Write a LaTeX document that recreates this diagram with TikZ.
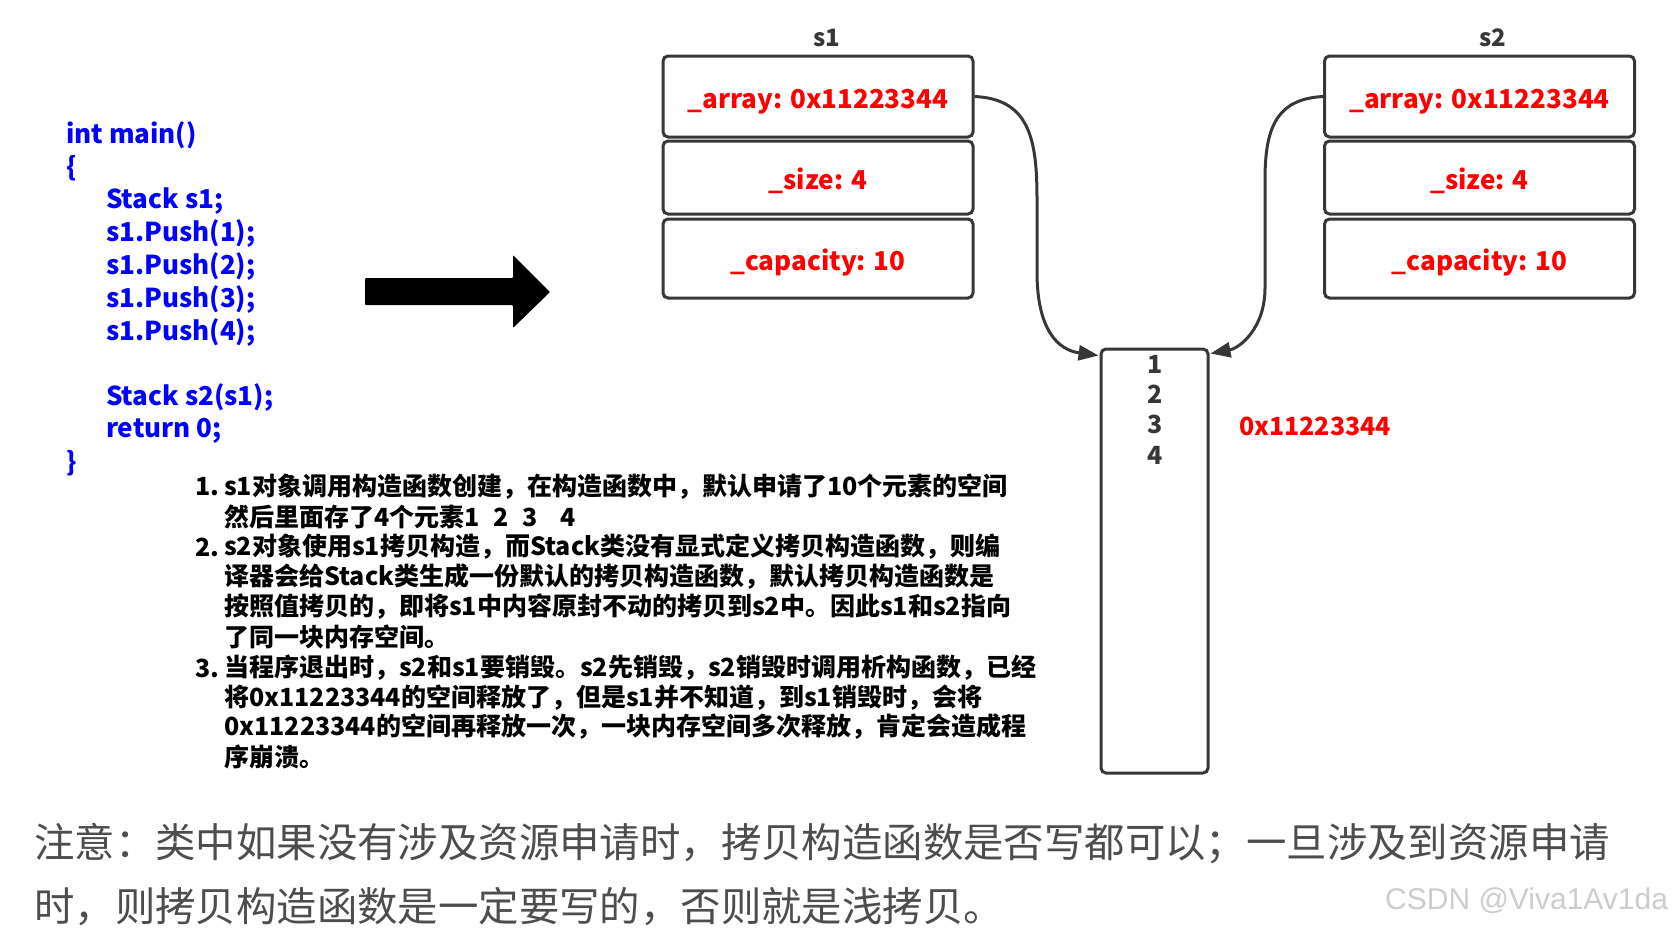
\documentclass[tikz,border=0pt]{standalone}
\usepackage{fontspec}
\setmainfont{Noto Sans CJK SC}
\newfontfamily\wmfont{Liberation Sans}
\usetikzlibrary{arrows.meta,calc}
\definecolor{codeblue}{RGB}{0,0,255}
\definecolor{fieldred}{RGB}{255,0,0}
\definecolor{linegray}{RGB}{55,55,55}
\definecolor{notegray}{RGB}{77,77,77}
\definecolor{wmgray}{RGB}{205,205,205}
\newcommand{\fldtxt}[1]{\raisebox{-11.5pt}[0pt][0pt]{#1}}
\tikzset{
  field/.style={draw=linegray, line width=3pt, rounded corners=5pt, minimum width=310pt, minimum height=#1, inner sep=0pt, text=fieldred, font=\fontsize{26}{30}\selectfont\bfseries},
  code/.style={anchor=west, inner sep=0pt, text=codeblue, font=\fontsize{26}{33}\selectfont\bfseries},
  para/.style={anchor=west, inner sep=0pt, text=black, font=\fontsize{25}{30}\selectfont\bfseries},
  note/.style={anchor=west, inner sep=0pt, text=notegray, font=\fontsize{40.4}{50}\selectfont},
  title/.style={inner sep=0pt, text=linegray, font=\fontsize{24}{28}\selectfont\bfseries},
  num/.style={inner sep=0pt, text=linegray, font=\fontsize{25}{30}\selectfont\bfseries},
  conn/.style={draw=linegray, line width=3pt, -{Triangle[length=20pt,width=15pt]}},
}
\begin{document}
\begin{tikzpicture}[x=1pt,y=-1pt]
\useasboundingbox (0,0) rectangle (1675,930);
% code
\node[code] (c1) at (66,135) {int main()};
\node[code] (c2) at (66,168) {\{};
\node[code] (c3) at (106,201) {Stack s1;};
\node[code] (c4) at (106,234) {s1.Push(1);};
\node[code] (c5) at (106,267) {s1.Push(2);};
\node[code] (c6) at (106,300) {s1.Push(3);};
\node[code] (c7) at (106,333) {s1.Push(4);};
\node[code] (c8) at (106,398) {Stack s2(s1);};
\node[code] (c9) at (106,431) {return 0;};
\node[code] (c10) at (66,463) {\}};
% big arrow
\fill[black, rounded corners=1pt] (365,278) -- (513,278) -- (513,255) -- (550,292) -- (513,328) -- (513,305) -- (365,305) -- cycle;
% s1
\node[title] (s1t) at (827,38) {s1};
\node[field=81pt] (a1) at (818,96.5) {\fldtxt{\_array: 0x11223344}};
\node[field=73pt] (z1) at (818,177.5) {\fldtxt{\_size: 4}};
\node[field=79pt] (p1) at (818,258.5) {\fldtxt{\_capacity: 10}};
% s2
\node[title] (s2t) at (1493,38) {s2};
\node[field=81pt] (a2) at (1479.5,96.5) {\fldtxt{\_array: 0x11223344}};
\node[field=73pt] (z2) at (1479.5,177.5) {\fldtxt{\_size: 4}};
\node[field=79pt] (p2) at (1479.5,258.5) {\fldtxt{\_capacity: 10}};
% heap array
\node[draw=linegray, line width=3pt, rounded corners=5pt, minimum width=107pt, minimum height=424pt, inner sep=0pt] (arr) at (1154.5,561) {};
\node[num] (n1) at (1155,364) {1};
\node[num] (n2) at (1155,394) {2};
\node[num] (n3) at (1155,424) {3};
\node[num] (n4) at (1155,455) {4};
\node[inner sep=0pt, text=fieldred, font=\fontsize{25}{30}\selectfont\bfseries] (addr) at (1315,426) {0x11223344};
% connectors
\draw[conn] (a1.east) .. controls (1030,99) and (1037,140) .. (1037,200) -- (1037,272) .. controls (1037,330) and (1058,350) .. ($(arr.north west)+(-1,8)$);
\draw[conn] (a2.west) .. controls (1275,99) and (1265,130) .. (1265,180) -- (1265,288) .. controls (1265,328) and (1240,348) .. ($(arr.north east)+(1,6)$);
% explanation
\node[para] (l1n) at (195,487) {1.};
\node[para] (l1) at (224,487) {s1对象调用构造函数创建，在构造函数中，默认申请了10个元素的空间};
\node[para] (l2) at (224,517) {然后里面存了4个元素1\hspace{14pt}2\hspace{14pt}3\hspace{22pt}4};
\node[para] (l3n) at (195,547) {2.};
\node[para] (l3) at (224,547) {s2对象使用s1拷贝构造，而Stack类没有显式定义拷贝构造函数，则编};
\node[para] (l4) at (224,577) {译器会给Stack类生成一份默认的拷贝构造函数，默认拷贝构造函数是};
\node[para] (l5) at (224,607) {按照值拷贝的，即将s1中内容原封不动的拷贝到s2中。因此s1和s2指向};
\node[para] (l6) at (224,637) {了同一块内存空间。};
\node[para] (l7n) at (195,668) {3.};
\node[para] (l7) at (224,668) {当程序退出时，s2和s1要销毁。s2先销毁，s2销毁时调用析构函数，已经};
\node[para] (l8) at (224,698) {将0x11223344的空间释放了，但是s1并不知道，到s1销毁时，会将};
\node[para] (l9) at (224,727) {0x11223344的空间再释放一次，一块内存空间多次释放，肯定会造成程};
\node[para] (l10) at (224,757) {序崩溃。};
% note
\node[note] (nt1) at (34,844) {注意：类中如果没有涉及资源申请时，拷贝构造函数是否写都可以；一旦涉及到资源申请};
\node[note] (nt2) at (34,907) {时，则拷贝构造函数是一定要写的，否则就是浅拷贝。};
\node[anchor=west, inner sep=0pt, text=wmgray, font=\wmfont\fontsize{30}{34}\selectfont] (wm) at (1385,901) {CSDN @Viva1Av1da};
\end{tikzpicture}
\end{document}
